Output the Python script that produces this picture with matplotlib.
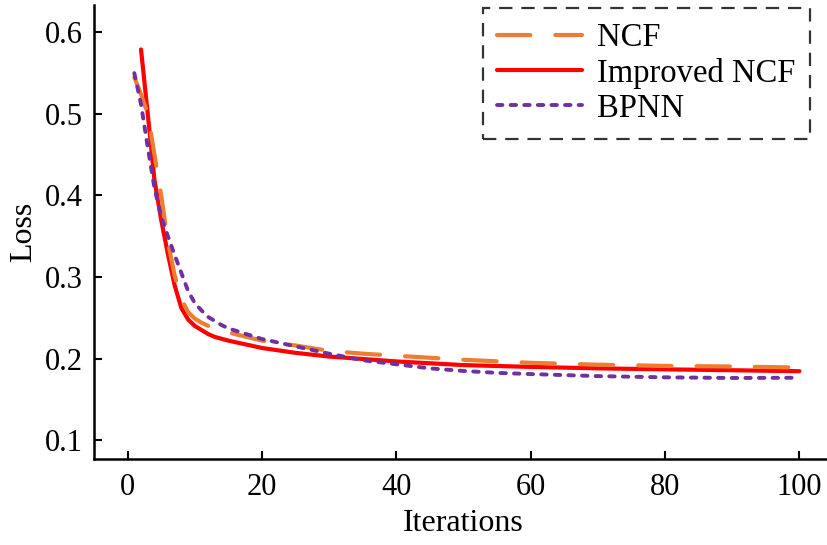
import matplotlib
matplotlib.use("Agg")
import matplotlib.pyplot as plt

plt.rcParams['font.family'] = ['Liberation Serif', 'DejaVu Serif']
plt.rcParams['mathtext.fontset'] = 'stix'

# loss per iteration (denser sampling where the curves drop fast)
ncf_iter = [1, 2, 3, 4, 5, 6, 7, 8, 9, 10, 11, 12, 13, 15, 20, 25, 30, 35, 40,
            50, 60, 70, 80, 90, 100]
ncf_loss = [0.545, 0.524, 0.500, 0.450, 0.400, 0.343, 0.302, 0.273, 0.257, 0.249,
            0.244, 0.240, 0.237, 0.232, 0.222, 0.216, 0.2095, 0.206, 0.2035,
            0.1985, 0.1948, 0.1925, 0.191, 0.1903, 0.189]

improved_iter = [2, 3, 4, 5, 6, 7, 8, 9, 10, 11, 12, 13, 15, 20, 25, 30, 40,
                 50, 60, 70, 80, 90, 100]
improved_loss = [0.579, 0.500, 0.419, 0.370, 0.328, 0.290, 0.262, 0.248, 0.240,
                 0.235, 0.230, 0.2265, 0.222, 0.213, 0.207, 0.2025, 0.1965, 0.192,
                 0.1898, 0.188, 0.1868, 0.1857, 0.1845]

bpnn_iter = [1, 2, 3, 4, 5, 6, 7, 8, 9, 10, 11, 12, 13, 14, 15, 20, 25, 30, 35,
             40, 45, 50, 55, 60, 70, 80, 90, 100]
bpnn_loss = [0.550, 0.512, 0.459, 0.409, 0.374, 0.350, 0.327, 0.305, 0.283, 0.268,
             0.259, 0.251, 0.246, 0.241, 0.237, 0.224, 0.215, 0.206, 0.198, 0.193,
             0.188, 0.1848, 0.1825, 0.181, 0.1785, 0.1770, 0.1762, 0.1765]

fig = plt.figure(figsize=(8.28, 5.45), dpi=100)
ax = fig.add_axes([94 / 828, 85.7 / 545, 739 / 828, 454.3 / 545])

ax.plot(ncf_iter, ncf_loss, color='#ED7D31', lw=3, dashes=(8, 6),
        dash_capstyle='round', label='NCF', zorder=3)
ax.plot(improved_iter, improved_loss, color='#FF0000', lw=3,
        solid_capstyle='round', label='Improved NCF', zorder=2)
ax.plot(bpnn_iter, bpnn_loss, color='#7030A0', lw=2.8, dashes=(1.4, 2.1),
        dash_capstyle='round', label='BPNN', zorder=4)

ax.set_xlim(-5, 105)
ax.set_ylim(0.0765, 0.6335)
ax.set_xticks([0, 20, 40, 60, 80, 100])
ax.set_yticks([0.1, 0.2, 0.3, 0.4, 0.5, 0.6])

for side in ['top', 'right']:
    ax.spines[side].set_visible(False)
for side in ['left', 'bottom']:
    ax.spines[side].set_linewidth(1.8)

ax.tick_params(direction='in', length=5.5, width=1.5, labelsize=22)
ax.tick_params(axis='x', pad=10)
ax.tick_params(axis='y', pad=8)

ax.set_xlabel('Iterations', fontsize=23, labelpad=5)
ax.set_ylabel('Loss', fontsize=23, labelpad=5)

leg = ax.legend(loc='upper right', bbox_to_anchor=(810 / 828, 1 - 8 / 545),
                bbox_transform=fig.transFigure, fontsize=23.5, frameon=True,
                fancybox=False, handlelength=2.6, handletextpad=0.45,
                labelspacing=0.14, borderpad=0.45, borderaxespad=0)
frame = leg.get_frame()
frame.set_edgecolor('black')
frame.set_linewidth(1.6)
frame.set_linestyle((0, (6, 4)))

fig.savefig('out.png', dpi=100)
